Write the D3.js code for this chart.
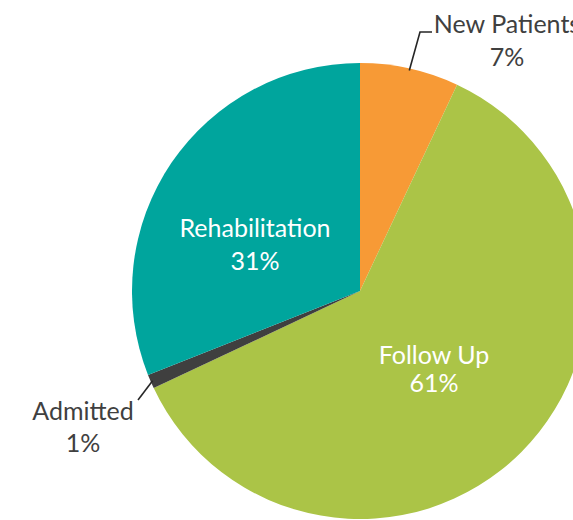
<!DOCTYPE html>
<html>
<head>
<meta charset="utf-8">
<script src="https://cdn.jsdelivr.net/npm/d3@7"></script>
<style>
	body { margin: 0; background: #fff; overflow: hidden; }
	svg { display: block; }
</style>
</head>
<body>
<script>
'use strict';

const categories = ["New Patients", "Follow Up", "Admitted", "Rehabilitation"];
const values = [7, 61, 1, 31];
const colors = ["#F79A36", "#ABC447", "#3F3F3F", "#00A59D"];

const params = {
	width: 573,
	height: 520,
	cx: 360,
	cy: 291,
	radius: 228,
	font: "Lato, 'Open Sans', sans-serif",
	fontSize: 25
};

const svg = d3.select("body").append("svg")
	.attr("width", params.width)
	.attr("height", params.height)

const g = svg.append("g")
	.attr("transform", `translate(${params.cx},${params.cy})`)

const data = categories.map((c, i) => ({ name: c, value: values[i], color: colors[i] }))

const pie = d3.pie()
	.value(d => d.value)
	.sort(null)

const arc = d3.arc()
	.innerRadius(0)
	.outerRadius(params.radius)

const arcs = pie(data)

g.selectAll("path")
	.data(arcs)
	.join("path")
		.attr("d", arc)
		.attr("fill", d => d.data.color)

// label placement: inside for big slices, outside with leader for small ones
const polar = (r, a) => [r * Math.sin(a), -r * Math.cos(a)]
const mid = d => (d.startAngle + d.endAngle) / 2

const labels = [
	{ i: 0, inside: false, pos: [147, -258], dy: 33, leader: [[0, 0], [60, -259], [72, -259]] },
	{ i: 1, inside: true, pos: [74, 73], dy: 28 },
	{ i: 2, inside: false, pos: [-277, 129], dy: 32, leader: [[0, 0], [-222, 109]] },
	{ i: 3, inside: true, pos: [-105, -54], dy: 33 }
]

for (let l of labels) {
	const d = arcs[l.i]
	if (!l.inside) {
		// leader line starts on the rim at the slice middle
		const start = polar(params.radius - 2, mid(d))
		const pts = l.leader.map((p, k) => k == 0 ? start : p)
		g.append("path")
			.attr("d", d3.line()(pts))
			.attr("fill", "none")
			.attr("stroke", "#262626")
			.attr("stroke-width", 1.6)
	}
	const t = g.append("text")
		.attr("x", l.pos[0])
		.attr("y", l.pos[1])
		.attr("text-anchor", "middle")
		.attr("font-family", params.font)
		.attr("font-size", params.fontSize)
		.attr("fill", l.inside ? "#ffffff" : "#404040")
	t.append("tspan")
		.attr("x", l.pos[0])
		.text(d.data.name)
	t.append("tspan")
		.attr("x", l.pos[0])
		.attr("dy", l.dy)
		.text(d.data.value + "%")
}
</script>
</body>
</html>
